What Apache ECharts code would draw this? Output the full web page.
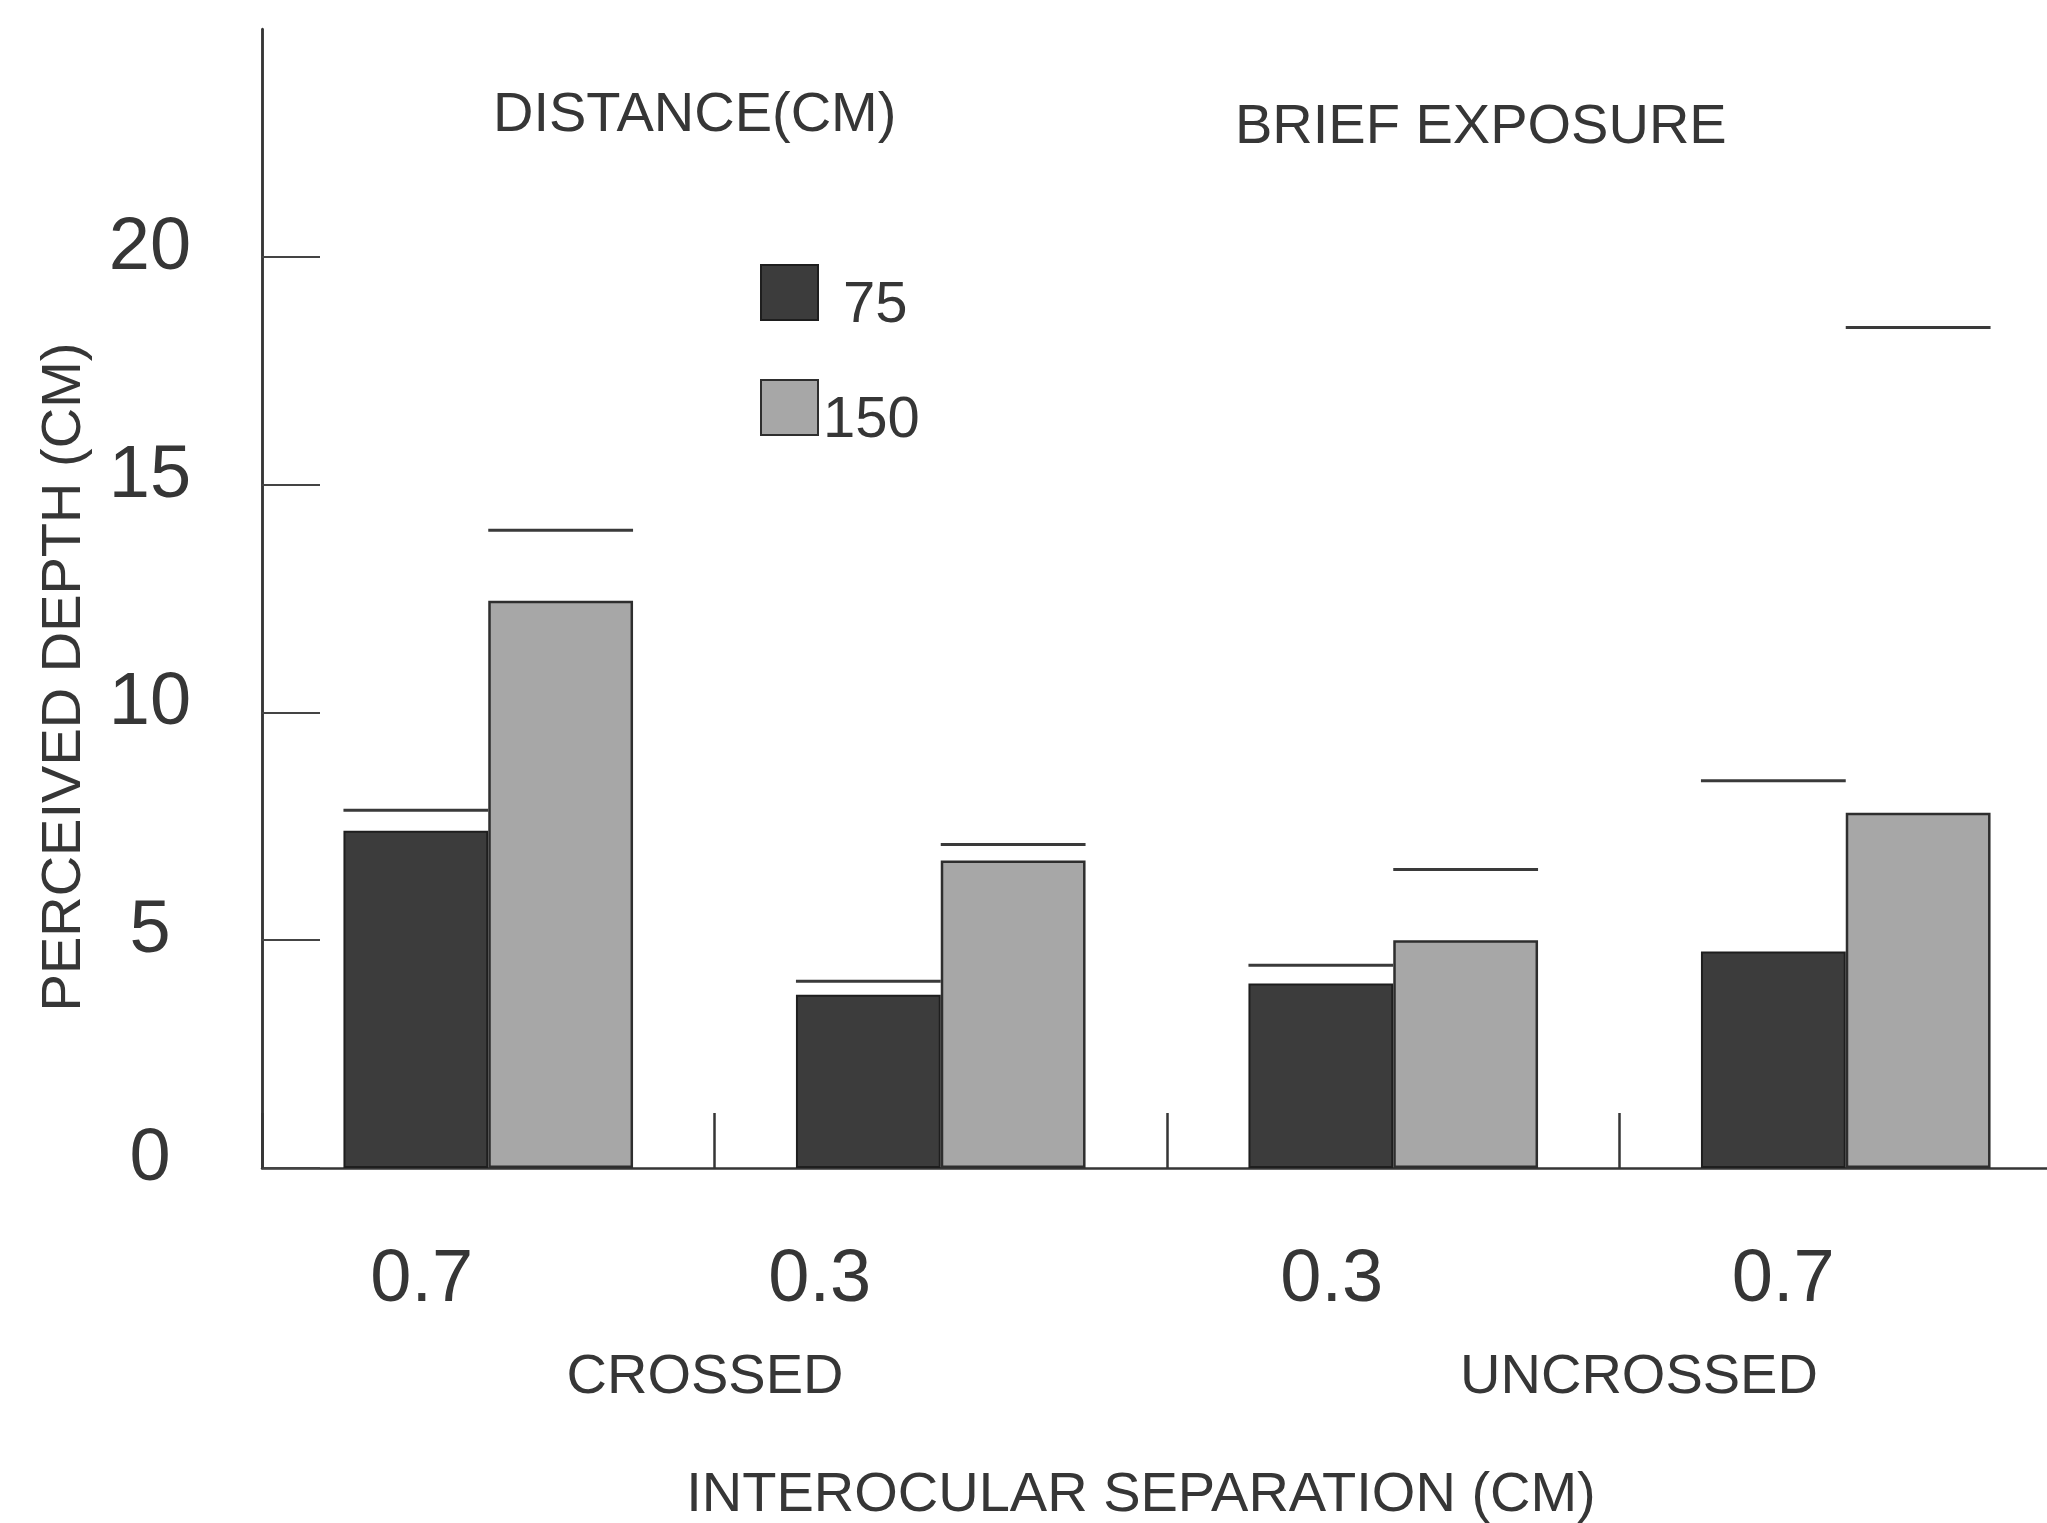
<!DOCTYPE html>
<html>
<head>
<meta charset="utf-8">
<script src="https://cdn.jsdelivr.net/npm/echarts@6/dist/echarts.min.js"></script>
<style>
  html, body { margin: 0; padding: 0; background: #ffffff; }
  #chart { width: 2047px; height: 1523px; }
</style>
</head>
<body>
<div id="chart"></div>
<script>
// Interocular separation conditions (left two crossed, right two uncrossed)
const separations = ['0.7', '0.3', '0.3', '0.7'];
const disparityTypes = ['CROSSED', 'UNCROSSED'];
const distances = ['75', '150'];

// Mean perceived depth (cm) per viewing distance
const depth75 = [7.4, 3.8, 4.05, 4.75];
const depth150 = [12.45, 6.75, 5.0, 7.8];

// Upper error marks (cm)
const upper75 = [7.85, 4.1, 4.45, 8.5];
const upper150 = [14.0, 7.1, 6.55, 18.45];

const yTicks = [0, 5, 10, 15, 20];

const FONT = "'Liberation Sans', Arial, Helvetica, sans-serif";
const INK = '#363636';
const CAT_GAP = 0.36;

const errData = [];
upper75.forEach((v, i) => errData.push([i, v, 0]));
upper150.forEach((v, i) => errData.push([i, v, 1]));

const txt = (size, extra) => Object.assign({ fontFamily: FONT, fontSize: size, color: INK }, extra || {});

const chart = echarts.init(document.getElementById('chart'), null, { renderer: 'canvas' });

chart.setOption({
  backgroundColor: '#ffffff',
  animation: false,
  title: [
    { text: 'DISTANCE(CM)', left: 493, top: 88, padding: 0,
      textStyle: txt(56, { fontWeight: 'normal' }) },
    { text: 'BRIEF EXPOSURE', left: 1235, top: 100, padding: 0,
      textStyle: txt(56, { fontWeight: 'normal' }) }
  ],
  legend: [
    { data: [distances[0]], left: 760, top: 264, orient: 'vertical', padding: 0,
      itemWidth: 57, itemHeight: 55, icon: 'rect',
      formatter: n => '{a|' + n + '}',
      textStyle: txt(58, { rich: { a: txt(58, { padding: [26, 0, 0, 20] }) } }) },
    { data: [distances[1]], left: 760, top: 379, orient: 'vertical', padding: 0,
      itemWidth: 57, itemHeight: 55, icon: 'rect',
      formatter: n => '{a|' + n + '}',
      textStyle: txt(58, { rich: { a: txt(58, { padding: [26, 0, 0, 0] }) } }) }
  ],
  grid: { left: 262, right: -25, top: 29, bottom: 355, containLabel: false, outerBoundsMode: 'none' },
  xAxis: [
    {
      type: 'category',
      data: separations,
      boundaryGap: true,
      axisLine: { show: true, lineStyle: { color: INK, width: 2.5 } },
      axisTick: { show: true, inside: true, length: 55, interval: 0,
        lineStyle: { color: INK, width: 2.5 } },
      splitLine: { show: true, interval: (i) => i === 2,
        lineStyle: { color: INK, width: 2.5 } },
      axisLabel: {
        interval: 0, margin: 76, fontFamily: FONT, fontSize: 74, color: INK,
        formatter: (v, i) => '{c' + i + '|' + v + '}',
        rich: {
          c0: txt(74, { padding: [0, 133, 0, 0] }),
          c1: txt(74, { padding: [0, 242, 0, 0] }),
          c2: txt(74, { padding: [0, 123, 0, 0] }),
          c3: txt(74, { padding: [0, 125, 0, 0] })
        }
      },
      name: 'INTEROCULAR SEPARATION (CM)',
      nameLocation: 'middle',
      nameGap: 300,
      nameTextStyle: txt(56, { padding: [0, 52, 0, 0], verticalAlign: 'top' })
    },
    {
      type: 'category',
      data: disparityTypes,
      position: 'bottom',
      axisLine: { show: false },
      axisTick: { show: false },
      splitLine: { show: false },
      axisLabel: {
        interval: 0, margin: 182, fontFamily: FONT, fontSize: 56, color: INK,
        formatter: (v, i) => '{d' + i + '|' + v + '}',
        rich: {
          d0: txt(56, { padding: [0, 19, 0, 0] }),
          d1: txt(56, { padding: [0, 0, 0, 39] })
        }
      }
    }
  ],
  yAxis: {
    type: 'value',
    min: 0, max: 25, interval: 5,
    axisLine: { show: true, lineStyle: { color: INK, width: 2.5 } },
    axisTick: { show: true, inside: true, length: 58, customValues: yTicks,
      lineStyle: { color: '#444444', width: 2 } },
    splitLine: { show: false },
    axisLabel: {
      customValues: yTicks,
      margin: 112, align: 'center', verticalAlign: 'bottom', lineHeight: 17,
      fontFamily: FONT, fontSize: 74, color: INK
    },
    name: 'PERCEIVED DEPTH (CM)',
    nameLocation: 'middle',
    nameRotate: 90,
    nameGap: 169,
    nameTextStyle: txt(56, { padding: [0, 157, 0, 0] })
  },
  series: [
    {
      name: distances[0], type: 'bar', xAxisIndex: 0, data: depth75,
      barGap: '0%', barCategoryGap: (CAT_GAP * 100) + '%',
      itemStyle: { color: '#3c3c3c', borderColor: '#1e1e1e', borderWidth: 2 }
    },
    {
      name: distances[1], type: 'bar', xAxisIndex: 0, data: depth150,
      barGap: '0%', barCategoryGap: (CAT_GAP * 100) + '%',
      itemStyle: { color: '#a7a7a7', borderColor: '#2e2e2e', borderWidth: 2.5 }
    },
    {
      name: 'upper', type: 'custom', xAxisIndex: 0, data: errData,
      silent: true, z: 5,
      renderItem: (params, api) => {
        const pt = api.coord([api.value(0), api.value(1)]);
        const band = api.size([1, 0])[0];
        const w = band * (1 - CAT_GAP) / 2;
        const x0 = pt[0] - w + api.value(2) * w;
        return {
          type: 'line',
          shape: { x1: x0, y1: pt[1], x2: x0 + w, y2: pt[1] },
          style: { stroke: '#3a3a3a', lineWidth: 3 }
        };
      }
    }
  ]
});
</script>
</body>
</html>
